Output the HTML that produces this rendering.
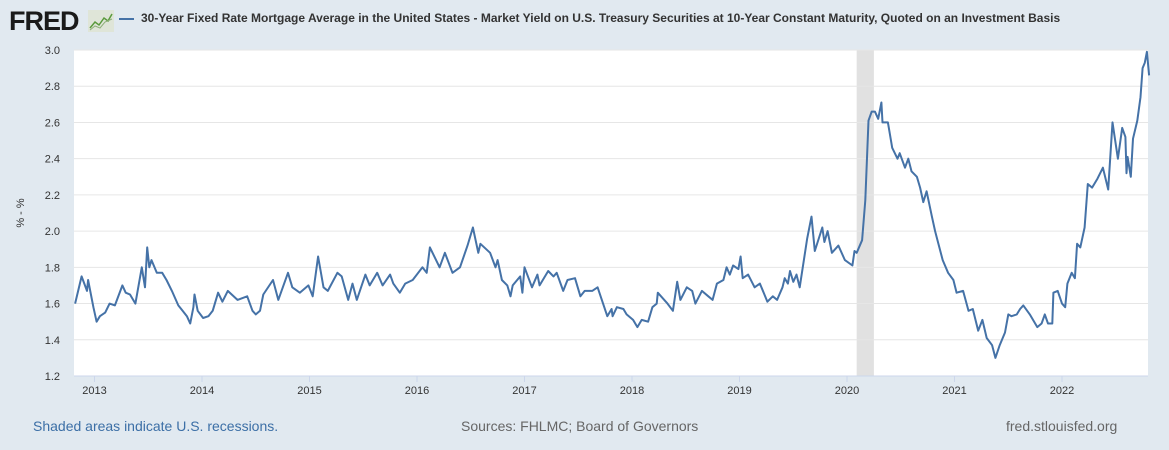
<!DOCTYPE html>
<html><head><meta charset="utf-8"><style>
body{margin:0;width:1169px;height:450px;background:#e1e9f0;font-family:"Liberation Sans",sans-serif;overflow:hidden;position:relative}
.t{position:absolute;white-space:nowrap}
</style></head><body>
<div class="t" style="left:9px;top:6px;font-size:27px;font-weight:bold;color:#1a1a1a;letter-spacing:-1px">FRED</div>
<svg style="position:absolute;left:88px;top:10px" width="26" height="22"><rect x="0" y="0" width="26" height="22" fill="#dfe5d8"/><polyline points="2,18 7,12 11,15 16,8 20,11 24,4" fill="none" stroke="#5a9a3c" stroke-width="1.5"/><polyline points="2,20 7,16 12,18 17,12 24,9" fill="none" stroke="#8fb07a" stroke-width="1"/></svg>
<div style="position:absolute;left:119px;top:18px;width:15px;height:2px;background:#4572a7"></div>
<div class="t" style="left:141px;top:11px;font-size:12px;font-weight:bold;color:#333">30-Year Fixed Rate Mortgage Average in the United States - Market Yield on U.S. Treasury Securities at 10-Year Constant Maturity, Quoted on an Investment Basis</div>
<svg id="chart" width="1169" height="450" style="position:absolute;left:0;top:0"></svg>
<div class="t" style="left:33px;top:418px;font-size:14px;color:#3c6fa6">Shaded areas indicate U.S. recessions.</div>
<div class="t" style="left:461px;top:418px;font-size:14px;color:#666">Sources: FHLMC; Board of Governors</div>
<div class="t" style="left:1006px;top:418px;font-size:14px;color:#666">fred.stlouisfed.org</div>
<script>
const dates=[2012.82,2012.88,2012.93,2012.94,2012.99,2013.02,2013.05,2013.10,2013.14,2013.19,2013.26,2013.29,2013.33,2013.38,2013.44,2013.47,2013.49,2013.51,2013.53,2013.58,2013.63,2013.67,2013.72,2013.78,2013.82,2013.86,2013.89,2013.92,2013.93,2013.96,2014.01,2014.06,2014.10,2014.15,2014.19,2014.24,2014.33,2014.42,2014.47,2014.50,2014.54,2014.57,2014.66,2014.71,2014.80,2014.84,2014.91,2014.99,2015.03,2015.08,2015.13,2015.17,2015.26,2015.30,2015.36,2015.40,2015.44,2015.52,2015.56,2015.63,2015.68,2015.75,2015.78,2015.84,2015.89,2015.96,2016.05,2016.09,2016.12,2016.21,2016.26,2016.33,2016.40,2016.47,2016.52,2016.57,2016.59,2016.68,2016.73,2016.75,2016.79,2016.84,2016.87,2016.89,2016.96,2016.98,2017.00,2017.07,2017.12,2017.14,2017.22,2017.27,2017.30,2017.36,2017.40,2017.47,2017.52,2017.56,2017.63,2017.68,2017.77,2017.81,2017.82,2017.86,2017.92,2017.95,2018.01,2018.05,2018.09,2018.15,2018.19,2018.23,2018.24,2018.33,2018.38,2018.42,2018.45,2018.51,2018.56,2018.59,2018.65,2018.71,2018.75,2018.79,2018.85,2018.88,2018.91,2018.94,2018.99,2019.01,2019.03,2019.08,2019.14,2019.19,2019.26,2019.31,2019.35,2019.40,2019.42,2019.45,2019.47,2019.50,2019.53,2019.56,2019.63,2019.67,2019.70,2019.77,2019.79,2019.82,2019.86,2019.92,2019.98,2020.05,2020.07,2020.09,2020.14,2020.17,2020.20,2020.23,2020.26,2020.29,2020.32,2020.33,2020.38,2020.42,2020.47,2020.49,2020.54,2020.57,2020.60,2020.65,2020.68,2020.71,2020.74,2020.79,2020.82,2020.85,2020.89,2020.94,2020.99,2021.02,2021.08,2021.13,2021.17,2021.22,2021.26,2021.30,2021.35,2021.38,2021.42,2021.47,2021.50,2021.53,2021.58,2021.61,2021.64,2021.70,2021.77,2021.81,2021.84,2021.87,2021.91,2021.92,2021.96,2022.00,2022.03,2022.05,2022.09,2022.12,2022.14,2022.17,2022.21,2022.24,2022.28,2022.33,2022.38,2022.43,2022.47,2022.52,2022.56,2022.59,2022.60,2022.61,2022.64,2022.66,2022.70,2022.73,2022.75,2022.77,2022.79,2022.81];
const spread=[1.60,1.75,1.67,1.73,1.58,1.50,1.53,1.55,1.60,1.59,1.70,1.66,1.65,1.60,1.80,1.69,1.91,1.80,1.84,1.77,1.77,1.73,1.67,1.59,1.56,1.53,1.49,1.58,1.65,1.56,1.52,1.53,1.56,1.66,1.61,1.67,1.62,1.64,1.56,1.54,1.56,1.65,1.73,1.62,1.77,1.69,1.66,1.70,1.64,1.86,1.69,1.67,1.77,1.75,1.62,1.71,1.62,1.76,1.70,1.77,1.70,1.76,1.71,1.66,1.71,1.73,1.80,1.77,1.91,1.80,1.88,1.77,1.80,1.92,2.02,1.88,1.93,1.88,1.80,1.84,1.73,1.70,1.64,1.70,1.75,1.66,1.80,1.69,1.76,1.70,1.78,1.75,1.77,1.67,1.73,1.74,1.64,1.67,1.67,1.69,1.53,1.57,1.53,1.58,1.57,1.54,1.51,1.47,1.51,1.50,1.58,1.60,1.66,1.60,1.56,1.72,1.62,1.69,1.67,1.60,1.67,1.64,1.62,1.71,1.73,1.80,1.76,1.81,1.79,1.86,1.74,1.76,1.69,1.71,1.61,1.64,1.62,1.69,1.74,1.71,1.78,1.72,1.76,1.69,1.96,2.08,1.89,2.02,1.94,2.00,1.88,1.92,1.84,1.81,1.89,1.88,1.95,2.17,2.61,2.66,2.66,2.62,2.71,2.60,2.60,2.46,2.40,2.43,2.35,2.40,2.33,2.30,2.24,2.16,2.22,2.08,2.00,1.93,1.84,1.77,1.73,1.66,1.67,1.56,1.57,1.45,1.51,1.41,1.37,1.30,1.37,1.44,1.54,1.53,1.54,1.57,1.59,1.54,1.47,1.49,1.54,1.49,1.49,1.66,1.67,1.60,1.58,1.71,1.77,1.74,1.93,1.91,2.02,2.26,2.24,2.29,2.35,2.23,2.60,2.40,2.57,2.52,2.32,2.41,2.30,2.51,2.61,2.74,2.90,2.93,2.99,2.86];
const yTicks=["1.2","1.4","1.6","1.8","2.0","2.2","2.4","2.6","2.8","3.0"];
const xYears=[2013,2014,2015,2016,2017,2018,2019,2020,2021,2022];
const recStart=[2020.09], recEnd=[2020.25];
const L=74,R=1148,T=50,B=376;
const xs=t=>94.5+(t-2013)*107.5;
const ys=v=>B-(v-1.2)/(3.0-1.2)*(B-T);
const NS="http://www.w3.org/2000/svg";
const svg=document.getElementById('chart');
function mk(tag,attrs,parent){const e=document.createElementNS(NS,tag);for(const k in attrs)e.setAttribute(k,attrs[k]);(parent||svg).appendChild(e);return e;}
const bg=mk('rect',{x:L,y:T,width:R-L,height:B-T,fill:'#fff'});


recStart.forEach((s,i)=>{const r=mk('rect',{x:xs(s),y:T,width:xs(recEnd[i])-xs(s),height:B-T,fill:'#e1e1e1'});

});
yTicks.forEach(l=>{const v=parseFloat(l),y=ys(v);
const g=mk('line',{x1:L,x2:R,y1:y,y2:y,stroke:v===1.2?'#ccd6eb':'#e6e6e6','stroke-width':1});


const t=mk('text',{x:60,y:y+4,'text-anchor':'end','font-size':11,fill:'#333','font-family':'Liberation Sans'});t.textContent=l;

});
xYears.forEach(yr=>{const x=xs(yr);
const k=mk('line',{x1:x,x2:x,y1:B,y2:B+6,stroke:'#ccd6eb'});


const t=mk('text',{x:x,y:B+18,'text-anchor':'middle','font-size':11,fill:'#333','font-family':'Liberation Sans'});t.textContent=yr;

});
const yt=mk('text',{x:0,y:0,transform:'translate(24,213) rotate(-90)','text-anchor':'middle','font-size':11,fill:'#333','font-family':'Liberation Sans'});yt.textContent='% - %';


const pts=dates.map((d,i)=>xs(d).toFixed(1)+','+ys(spread[i]).toFixed(1)).join(' ');
const line=mk('polyline',{points:pts,fill:'none',stroke:'#4572a7','stroke-width':2,'stroke-linejoin':'round'});


</script>
</body></html>
